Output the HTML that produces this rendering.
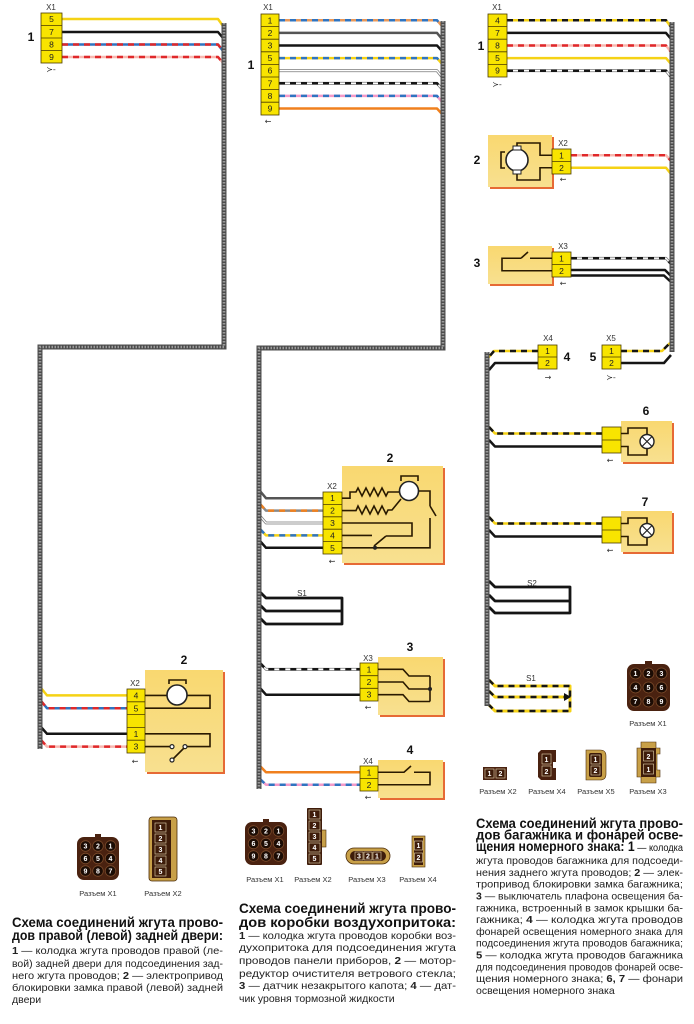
<!DOCTYPE html>
<html><head><meta charset="utf-8">
<style>
html,body{margin:0;padding:0;background:#fff;}
svg{display:block}
text{font-family:"Liberation Sans","DejaVu Sans",Arial,sans-serif;}
.w{fill:none;stroke-width:2.5;stroke-linejoin:round;stroke-linecap:butt}
.k{stroke:#151515}.y{stroke:#f5d215}.r{stroke:#e0282a}.b{stroke:#2f74c0}.p{stroke:#f49ac8}.o{stroke:#f0801e}.g{stroke:#555}.g2{stroke:#8a8a8a}.wo{stroke:#7a7a7a;stroke-width:2.8}.wt{stroke:#fff;stroke-width:1.3}.lp{stroke:#f8b8b0}.ob{stroke:#e8985a}
.d{stroke-dasharray:6 5}
.bu1{fill:none;stroke:#4c4c4c;stroke-width:5}
.bu2{fill:none;stroke:#9a9a9a;stroke-width:2.6;stroke-dasharray:1.5 1.5}
.cn{fill:#f8e400;stroke:#4a3a00;stroke-width:0.8}
.bx{fill:url(#bxg)}
.sh{fill:#e66a35}
.n{font-size:8.5px;text-anchor:middle;fill:#222}
.lb{font-size:8px;text-anchor:middle;fill:#333}
.big{font-size:12px;font-weight:bold;text-anchor:middle;fill:#111}
.in{fill:none;stroke:#2a1a00;stroke-width:1.6}
.tt{font-size:14px;font-weight:bold;fill:#111}
.tx{font-size:10.5px;fill:#222}
.cap{font-size:7.5px;text-anchor:middle;fill:#333}
.sym{font-size:8px;text-anchor:middle;fill:#333;font-family:"DejaVu Sans",sans-serif}
.pin{fill:#1c0c04;stroke:#7a4a2a;stroke-width:.8}
.pd{font-size:7px;font-weight:bold;fill:#fff;text-anchor:middle}
.ib{fill:#3e1c0a;stroke:#e8d8b0;stroke-width:.6}
</style></head>
<body>
<svg width="694" height="1024" viewBox="0 0 694 1024" xmlns="http://www.w3.org/2000/svg">
<defs>
<linearGradient id="bxg" x1="0" y1="0" x2="0" y2="1">
<stop offset="0" stop-color="#f9d870"/><stop offset="1" stop-color="#f8e090"/>
</linearGradient>
</defs>

<!-- ============ LEFT DIAGRAM ============ -->
<path class="w y" d="M62,19 H218 L223,26"/>
<path class="w k" d="M62,32 H218 L223,38"/>
<path class="w b" d="M62,44.5 H218 L223,51"/><path class="w r d" d="M62,44.5 H218 L223,51"/>
<path class="w lp" d="M62,57 H218 L223,63"/><path class="w r d" d="M62,57 H218 L223,63"/>

<path class="w y" d="M41,688 L47,695.4 H127"/>
<path class="w b" d="M41,701 L47,708.2 H127"/><path class="w r d" d="M41,701 L47,708.2 H127"/>
<path class="w k" d="M41,727 L47,733.8 H127"/>
<path class="w lp" d="M41,740 L47,746.6 H127"/><path class="w r d" d="M41,740 L47,746.6 H127"/>

<path class="bu1" d="M224,23 V347 H40 V749"/>
<path class="bu2" d="M224,23 V347 H40 V749"/>

<!-- X1 left -->
<text class="lb" x="51" y="10">X1</text>
<rect class="cn" x="41" y="13" width="21" height="50"/>
<path d="M41,25.5 H62 M41,38 H62 M41,50.5 H62" stroke="#4a3a00" stroke-width=".8"/>
<text class="n" x="51.5" y="22">5</text><text class="n" x="51.5" y="35">7</text><text class="n" x="51.5" y="47.5">8</text><text class="n" x="51.5" y="60">9</text>
<text class="big" x="31" y="41">1</text>
<text class="sym" x="51" y="72">≻-</text>

<!-- left body 2 -->
<text class="big" x="184" y="664">2</text>
<rect class="sh" x="147" y="672" width="78" height="102"/>
<rect class="bx" x="145" y="670" width="78" height="102"/>
<text class="lb" x="135" y="686">X2</text>
<rect class="cn" x="127" y="689" width="18" height="64"/>
<path d="M127,701.8 H145 M127,714.6 H145 M127,727.4 H145 M127,740.2 H145" stroke="#4a3a00" stroke-width=".8"/>
<text class="n" x="136" y="698.5">4</text><text class="n" x="136" y="711.3">5</text><text class="n" x="136" y="737">1</text><text class="n" x="136" y="749.7">3</text>
<text class="sym" x="135" y="764">⇜</text>
<path class="in" d="M145,695.4 H167 M187,695.4 H210 V708.2 H145"/>
<circle cx="177" cy="695" r="10" fill="#fff" stroke="#222" stroke-width="1.6"/>
<path class="in" d="M169,684 V680 H186 V684"/>
<path class="in" d="M145,733.8 H210 V746.6 H186 M145,746.6 H170"/>
<circle cx="172" cy="746.6" r="2" fill="#fff" stroke="#222" stroke-width="1.2"/>
<circle cx="185" cy="746.6" r="2" fill="#fff" stroke="#222" stroke-width="1.2"/>
<path class="in" d="M184,748 L173,759"/>
<circle cx="172" cy="760" r="2" fill="#fff" stroke="#222" stroke-width="1.2"/>

<!-- ============ MIDDLE DIAGRAM ============ -->
<path class="w ob" d="M279,20.3 H437 L442,26"/><path class="w b d" d="M279,20.3 H437 L442,26"/>
<path class="w g" d="M279,32.9 H437 L442,39"/>
<path class="w k" d="M279,45.5 H437 L442,51"/>
<path class="w y" d="M279,58.1 H437 L442,64"/><path class="w b d" d="M279,58.1 H437 L442,64"/>
<path class="w wo" d="M279,70.7 H437 L442,77"/><path class="w wt" d="M279,70.7 H437 L442,77"/>
<path class="w wo" d="M279,83.3 H437 L442,89"/><path class="w wt" d="M279,83.3 H437 L442,89"/><path class="w k d" d="M279,83.3 H437 L442,89"/>
<path class="w p" d="M279,95.9 H437 L442,102"/><path class="w b d" d="M279,95.9 H437 L442,102"/>
<path class="w o" d="M279,108.5 H437 L442,114"/>

<path class="w g" d="M260,491 L266,498.2 H323"/>
<path class="w g2" d="M260,504 L266,510.6 H323"/><path class="w o d" d="M260,504 L266,510.6 H323"/>
<path class="w wo" d="M260,516 L266,523 H323"/><path class="w wt" d="M260,516 L266,523 H323"/>
<path class="w y" d="M260,529 L266,535.4 H323"/><path class="w b d" d="M260,529 L266,535.4 H323"/>
<path class="w k" d="M260,541 L266,547.8 H323"/>

<path class="w k" style="stroke-width:2.8" d="M260,592 L266,598 H342 V624 H266 L260,618"/>
<path class="w k" style="stroke-width:2.8" d="M260,605 L266,611 H342"/>

<path class="w wo" d="M260,663 L266,669.3 H360"/><path class="w wt" d="M260,663 L266,669.3 H360"/><path class="w k d" d="M260,663 L266,669.3 H360"/>
<path class="w k" d="M260,688 L266,694.7 H360"/>
<path class="w o" d="M260,766 L266,772.25 H360"/>
<path class="w p" d="M260,779 L266,784.75 H360"/><path class="w b d" d="M260,779 L266,784.75 H360"/>

<path class="bu1" d="M443,21 V348 H259 V789"/>
<path class="bu2" d="M443,21 V348 H259 V789"/>

<text class="lb" x="268" y="10">X1</text>
<rect class="cn" x="261" y="14" width="18" height="101"/>
<path d="M261,26.6 H279 M261,39.2 H279 M261,51.8 H279 M261,64.4 H279 M261,77 H279 M261,89.6 H279 M261,102.2 H279" stroke="#4a3a00" stroke-width=".8"/>
<text class="n" x="270" y="23.3">1</text><text class="n" x="270" y="35.9">2</text><text class="n" x="270" y="48.5">3</text><text class="n" x="270" y="61.1">5</text><text class="n" x="270" y="73.7">6</text><text class="n" x="270" y="86.3">7</text><text class="n" x="270" y="98.9">8</text><text class="n" x="270" y="111.5">9</text>
<text class="big" x="251" y="69">1</text>
<text class="sym" x="268" y="124">←</text>

<!-- middle body 2 -->
<text class="big" x="390" y="462">2</text>
<rect class="sh" x="344" y="468" width="101" height="97"/>
<rect class="bx" x="342" y="466" width="101" height="97"/>
<text class="lb" x="332" y="489">X2</text>
<rect class="cn" x="323" y="492" width="19" height="62"/>
<path d="M323,504.4 H342 M323,516.8 H342 M323,529.2 H342 M323,541.6 H342" stroke="#4a3a00" stroke-width=".8"/>
<text class="n" x="332.5" y="501.2">1</text><text class="n" x="332.5" y="513.6">2</text><text class="n" x="332.5" y="526">3</text><text class="n" x="332.5" y="538.4">4</text><text class="n" x="332.5" y="550.8">5</text>
<text class="sym" x="332" y="564">⇜</text>
<path class="in" d="M342,498.2 H350 V492 H356 L358,488 L362,496 L366,488 L370,496 L374,488 L378,496 L382,488 L386,496 L388,492 H399"/>
<path class="in" d="M342,510.6 H356 L358,506 L362,514 L366,506 L370,514 L374,506 L378,514 L382,506 L386,514 L388,510 H392 L401,499"/>
<circle cx="409" cy="491" r="9.5" fill="#fff" stroke="#222" stroke-width="1.6"/>
<path class="in" d="M401,481 V476 H418 V481"/>
<path class="in" d="M419,491 H430 V506 M430,506 L436,516 M430,518 V547.8 H342"/>
<path class="in" d="M342,523 H412 V536 H386 M342,535.4 H372 M374,546 L386,536"/>
<circle cx="375" cy="547.8" r="2" fill="#222"/>

<!-- middle S1 -->
<text class="lb" x="302" y="596">S1</text>

<!-- middle body 3 -->
<text class="big" x="410" y="651">3</text>
<rect class="sh" x="380" y="659" width="65" height="58"/>
<rect class="bx" x="378" y="657" width="65" height="58"/>
<text class="lb" x="368" y="661">X3</text>
<rect class="cn" x="360" y="663" width="18" height="38"/>
<path d="M360,675.7 H378 M360,688.3 H378" stroke="#4a3a00" stroke-width=".8"/>
<text class="n" x="369" y="672.3">1</text><text class="n" x="369" y="685">2</text><text class="n" x="369" y="697.7">3</text>
<text class="sym" x="368" y="710">⇜</text>
<path class="in" d="M378,669.3 H403 L409,676 H430 M378,682 H403 L409,689 H430 M378,694.7 H403 L409,701.5 H430 M430,676 V701.5"/>
<circle cx="430" cy="689" r="2" fill="#222"/>

<!-- middle body 4 -->
<text class="big" x="410" y="754">4</text>
<rect class="sh" x="380" y="762" width="65" height="38"/>
<rect class="bx" x="378" y="760" width="65" height="38"/>
<text class="lb" x="368" y="764">X4</text>
<rect class="cn" x="360" y="766" width="18" height="25"/>
<path d="M360,778.5 H378" stroke="#4a3a00" stroke-width=".8"/>
<text class="n" x="369" y="775.3">1</text><text class="n" x="369" y="787.8">2</text>
<text class="sym" x="368" y="800">⇜</text>
<path class="in" d="M378,772.25 H404 L411,766 M414,772.25 H430 V784.75 H378"/>

<!-- ============ RIGHT DIAGRAM ============ -->
<path class="w y" d="M507,20.3 H666 L671,27"/><path class="w k d" d="M507,20.3 H666 L671,27"/>
<path class="w k" d="M507,32.9 H666 L671,39"/>
<path class="w lp" d="M507,45.5 H666 L671,52"/><path class="w r d" d="M507,45.5 H666 L671,52"/>
<path class="w y" d="M507,58.1 H666 L671,64"/>
<path class="w wo" d="M507,70.7 H666 L671,77"/><path class="w wt" d="M507,70.7 H666 L671,77"/><path class="w k d" d="M507,70.7 H666 L671,77"/>

<path class="w lp" d="M571,155.25 H666 L671,161"/><path class="w r d" d="M571,155.25 H666 L671,161"/>
<path class="w y" d="M571,167.75 H666 L671,174"/>
<path class="w wo" d="M571,258.25 H666 L671,264"/><path class="w wt" d="M571,258.25 H666 L671,264"/><path class="w k d" d="M571,258.25 H666 L671,264"/>
<path class="w k" d="M571,270 H665 L671,276"/>
<path class="w k" d="M571,275.5 H664 L671,282"/>

<path class="w y" d="M621,351 H662 L670,343"/><path class="w k d" d="M621,351 H662 L670,343"/>
<path class="w k" d="M621,363 H664 L671,355"/>

<path class="w y" d="M538,351 H494 L488,358"/><path class="w k d" d="M538,351 H494 L488,358"/>
<path class="w k" d="M538,363 H495 L489,370"/>

<path class="w y" d="M489,427 L495,433.5 H602"/><path class="w k d" d="M489,427 L495,433.5 H602"/>
<path class="w k" d="M489,440 L495,446.5 H602"/>
<path class="w y" d="M489,517 L495,523.5 H602"/><path class="w k d" d="M489,517 L495,523.5 H602"/>
<path class="w k" d="M489,530 L495,536.5 H602"/>

<path class="w k" style="stroke-width:2.8" d="M489,581 L495,587 H570 V613 H495 L489,607"/>
<path class="w k" style="stroke-width:2.8" d="M489,595 L495,601 H570"/>

<path class="w y" style="stroke-width:3" d="M489,680 L495,686 H570 V711 H495 L489,705"/><path class="w k d" d="M489,680 L495,686 H570 V711 H495 L489,705"/>
<path class="w y" style="stroke-width:3" d="M489,691 L495,697 H566"/><path class="w k d" d="M489,691 L495,697 H566"/>
<path d="M564,693 L571,697 L564,701 Z" fill="#111"/>

<path class="bu1" d="M672,22 V352"/><path class="bu2" d="M672,22 V352"/>
<path class="bu1" d="M487,352 V706"/><path class="bu2" d="M487,352 V706"/>

<text class="lb" x="497" y="10">X1</text>
<rect class="cn" x="488" y="14" width="19" height="63"/>
<path d="M488,26.6 H507 M488,39.2 H507 M488,51.8 H507 M488,64.4 H507" stroke="#4a3a00" stroke-width=".8"/>
<text class="n" x="497.5" y="23.3">4</text><text class="n" x="497.5" y="35.9">7</text><text class="n" x="497.5" y="48.5">8</text><text class="n" x="497.5" y="61.1">5</text><text class="n" x="497.5" y="73.7">9</text>
<text class="big" x="481" y="50">1</text>
<text class="sym" x="497" y="87">≻-</text>

<!-- right 2 -->
<text class="big" x="477" y="164">2</text>
<rect class="sh" x="490" y="137" width="64" height="52"/>
<rect class="bx" x="488" y="135" width="64" height="52"/>
<text class="lb" x="563" y="146">X2</text>
<rect class="cn" x="552" y="149" width="19" height="25"/>
<path d="M552,161.5 H571" stroke="#4a3a00" stroke-width=".8"/>
<text class="n" x="561.5" y="158.3">1</text><text class="n" x="561.5" y="170.8">2</text>
<text class="sym" x="563" y="182">⇜</text>
<path class="in" d="M552,155.25 H540 V143 H517 V149 M552,167.75 H540 V180 H517 V171 M505,152 H501 V168 H505"/>
<circle cx="517" cy="160" r="11" fill="#fff" stroke="#222" stroke-width="1.6"/>
<rect x="513" y="146" width="8" height="4" fill="#fff" stroke="#222" stroke-width="1"/>
<rect x="513" y="170" width="8" height="4" fill="#fff" stroke="#222" stroke-width="1"/>

<!-- right 3 -->
<text class="big" x="477" y="267">3</text>
<rect class="sh" x="490" y="248" width="64" height="38"/>
<rect class="bx" x="488" y="246" width="64" height="38"/>
<text class="lb" x="563" y="249">X3</text>
<rect class="cn" x="552" y="252" width="19" height="25"/>
<path d="M552,264.5 H571" stroke="#4a3a00" stroke-width=".8"/>
<text class="n" x="561.5" y="261.3">1</text><text class="n" x="561.5" y="273.8">2</text>
<text class="sym" x="563" y="286">⇜</text>
<path class="in" d="M552,258.25 H530 M521,258.25 L528,252 M552,270.75 H502 V258.25 H521"/>

<!-- right X4, X5 -->
<text class="lb" x="548" y="341">X4</text>
<rect class="cn" x="538" y="345" width="19" height="24"/>
<path d="M538,357 H557" stroke="#4a3a00" stroke-width=".8"/>
<text class="n" x="547.5" y="354">1</text><text class="n" x="547.5" y="366">2</text>
<text class="big" x="567" y="361">4</text>
<text class="sym" x="548" y="380">→</text>
<text class="lb" x="611" y="341">X5</text>
<rect class="cn" x="602" y="345" width="19" height="24"/>
<path d="M602,357 H621" stroke="#4a3a00" stroke-width=".8"/>
<text class="n" x="611.5" y="354">1</text><text class="n" x="611.5" y="366">2</text>
<text class="big" x="593" y="361">5</text>
<text class="sym" x="611" y="380">≻-</text>

<!-- lamp 6 -->
<text class="big" x="646" y="415">6</text>
<rect class="sh" x="623" y="423" width="51" height="41"/>
<rect class="bx" x="621" y="421" width="51" height="41"/>
<rect class="cn" x="602" y="427" width="19" height="26"/>
<path d="M602,440 H621" stroke="#4a3a00" stroke-width=".8"/>
<text class="sym" x="610" y="463">⇜</text>
<path class="in" d="M621,433.5 H628 V428 H647 V434.5 M621,446.5 H628 V455 H647 V448.5"/>
<circle cx="647" cy="441.5" r="7" fill="#fff" stroke="#222" stroke-width="1.4"/>
<path d="M642,436.5 L652,446.5 M652,436.5 L642,446.5" stroke="#222" stroke-width="1.2"/>

<!-- lamp 7 -->
<text class="big" x="645" y="506">7</text>
<rect class="sh" x="623" y="513" width="51" height="41"/>
<rect class="bx" x="621" y="511" width="51" height="41"/>
<rect class="cn" x="602" y="517" width="19" height="26"/>
<path d="M602,530 H621" stroke="#4a3a00" stroke-width=".8"/>
<text class="sym" x="610" y="553">⇜</text>
<path class="in" d="M621,523.5 H628 V518 H647 V523.5 M621,536.5 H628 V545 H647 V537.5"/>
<circle cx="647" cy="530.5" r="7" fill="#fff" stroke="#222" stroke-width="1.4"/>
<path d="M642,525.5 L652,535.5 M652,525.5 L642,535.5" stroke="#222" stroke-width="1.2"/>

<text class="lb" x="532" y="586">S2</text>
<text class="lb" x="531" y="681">S1</text>

<!-- ============ CONNECTOR ICONS ============ -->
<!-- left X1 -->
<rect x="95" y="834" width="6" height="5" fill="#4a2210"/>
<rect x="77" y="837" width="42" height="43" rx="7" fill="#4a2210"/>
<g>
<circle class="pin" cx="85.5" cy="846" r="5.3"/><circle class="pin" cx="98" cy="846" r="5.3"/><circle class="pin" cx="110.5" cy="846" r="5.3"/>
<circle class="pin" cx="85.5" cy="858.5" r="5.3"/><circle class="pin" cx="98" cy="858.5" r="5.3"/><circle class="pin" cx="110.5" cy="858.5" r="5.3"/>
<circle class="pin" cx="85.5" cy="871" r="5.3"/><circle class="pin" cx="98" cy="871" r="5.3"/><circle class="pin" cx="110.5" cy="871" r="5.3"/>
<text class="pd" x="85.5" y="848.5">3</text><text class="pd" x="98" y="848.5">2</text><text class="pd" x="110.5" y="848.5">1</text>
<text class="pd" x="85.5" y="861">6</text><text class="pd" x="98" y="861">5</text><text class="pd" x="110.5" y="861">4</text>
<text class="pd" x="85.5" y="873.5">9</text><text class="pd" x="98" y="873.5">8</text><text class="pd" x="110.5" y="873.5">7</text>
</g>
<text class="cap" x="98" y="896">Разъем X1</text>
<!-- left X2 -->
<rect x="149" y="817" width="28" height="64" rx="3" fill="#c8a048" stroke="#4a2a08" stroke-width=".8"/>
<rect x="152" y="820" width="19" height="58" fill="#3e1c0a"/>
<rect class="ib" x="155" y="823" width="11" height="9"/><rect class="ib" x="155" y="834" width="11" height="9"/><rect class="ib" x="155" y="845" width="11" height="9"/><rect class="ib" x="155" y="856" width="11" height="9"/><rect class="ib" x="155" y="867" width="11" height="9"/>
<text class="pd" x="160.5" y="830">1</text><text class="pd" x="160.5" y="841">2</text><text class="pd" x="160.5" y="852">3</text><text class="pd" x="160.5" y="863">4</text><text class="pd" x="160.5" y="874">5</text>
<text class="cap" x="163" y="896">Разъем X2</text>

<!-- middle X1 -->
<rect x="263" y="819" width="6" height="5" fill="#4a2210"/>
<rect x="245" y="822" width="42" height="43" rx="7" fill="#4a2210"/>
<circle class="pin" cx="253.5" cy="831" r="5.3"/><circle class="pin" cx="266" cy="831" r="5.3"/><circle class="pin" cx="278.5" cy="831" r="5.3"/>
<circle class="pin" cx="253.5" cy="843.5" r="5.3"/><circle class="pin" cx="266" cy="843.5" r="5.3"/><circle class="pin" cx="278.5" cy="843.5" r="5.3"/>
<circle class="pin" cx="253.5" cy="856" r="5.3"/><circle class="pin" cx="266" cy="856" r="5.3"/><circle class="pin" cx="278.5" cy="856" r="5.3"/>
<text class="pd" x="253.5" y="833.5">3</text><text class="pd" x="266" y="833.5">2</text><text class="pd" x="278.5" y="833.5">1</text>
<text class="pd" x="253.5" y="846">6</text><text class="pd" x="266" y="846">5</text><text class="pd" x="278.5" y="846">4</text>
<text class="pd" x="253.5" y="858.5">9</text><text class="pd" x="266" y="858.5">8</text><text class="pd" x="278.5" y="858.5">7</text>
<text class="cap" x="265" y="882">Разъем X1</text>
<!-- middle X2 -->
<rect x="321" y="830" width="5" height="17" fill="#c8a048" stroke="#4a2a08" stroke-width=".6"/>
<rect x="307" y="808" width="15" height="57" rx="1" fill="#3e1c0a"/>
<rect class="ib" x="309" y="810" width="11" height="9"/><rect class="ib" x="309" y="821" width="11" height="9"/><rect class="ib" x="309" y="832" width="11" height="9"/><rect class="ib" x="309" y="843" width="11" height="9"/><rect class="ib" x="309" y="854" width="11" height="9"/>
<text class="pd" x="314.5" y="817">1</text><text class="pd" x="314.5" y="828">2</text><text class="pd" x="314.5" y="839">3</text><text class="pd" x="314.5" y="850">4</text><text class="pd" x="314.5" y="861">5</text>
<text class="cap" x="313" y="882">Разъем X2</text>
<!-- middle X3 -->
<rect x="346" y="848" width="44" height="16" rx="8" fill="#c8a048" stroke="#4a2a08" stroke-width=".8"/>
<rect x="350" y="851" width="36" height="10" rx="5" fill="#3e1c0a"/>
<rect class="ib" x="355" y="852" width="8" height="8"/><rect class="ib" x="364" y="852" width="8" height="8"/><rect class="ib" x="373" y="852" width="8" height="8"/>
<text class="pd" x="359" y="858.5">3</text><text class="pd" x="368" y="858.5">2</text><text class="pd" x="377" y="858.5">1</text>
<text class="cap" x="367" y="882">Разъем X3</text>
<!-- middle X4 -->
<rect x="412" y="836" width="13" height="31" fill="#c8a048" stroke="#4a2a08" stroke-width=".6"/>
<rect x="414" y="838" width="9" height="27" fill="#3e1c0a"/>
<rect class="ib" x="414.5" y="841" width="8" height="9"/><rect class="ib" x="414.5" y="853" width="8" height="9"/>
<text class="pd" x="418.5" y="848">1</text><text class="pd" x="418.5" y="860">2</text>
<text class="cap" x="418" y="882">Разъем X4</text>

<!-- right X1 -->
<rect x="645" y="661" width="7" height="5" fill="#4a2210"/>
<rect x="627" y="664" width="43" height="47" rx="7" fill="#4a2210"/>
<circle class="pin" cx="635.5" cy="673.5" r="5.5"/><circle class="pin" cx="648.5" cy="673.5" r="5.5"/><circle class="pin" cx="661.5" cy="673.5" r="5.5"/>
<circle class="pin" cx="635.5" cy="687.5" r="5.5"/><circle class="pin" cx="648.5" cy="687.5" r="5.5"/><circle class="pin" cx="661.5" cy="687.5" r="5.5"/>
<circle class="pin" cx="635.5" cy="701.5" r="5.5"/><circle class="pin" cx="648.5" cy="701.5" r="5.5"/><circle class="pin" cx="661.5" cy="701.5" r="5.5"/>
<text class="pd" x="635.5" y="676">1</text><text class="pd" x="648.5" y="676">2</text><text class="pd" x="661.5" y="676">3</text>
<text class="pd" x="635.5" y="690">4</text><text class="pd" x="648.5" y="690">5</text><text class="pd" x="661.5" y="690">6</text>
<text class="pd" x="635.5" y="704">7</text><text class="pd" x="648.5" y="704">8</text><text class="pd" x="661.5" y="704">9</text>
<text class="cap" x="648" y="726">Разъем X1</text>
<!-- right X2 -->
<rect x="483" y="767" width="24" height="13" fill="#4a2210"/>
<rect class="ib" x="485" y="769" width="9" height="9"/><rect class="ib" x="496" y="769" width="9" height="9"/>
<text class="pd" x="489.5" y="776">1</text><text class="pd" x="500.5" y="776">2</text>
<text class="cap" x="498" y="794">Разъем X2</text>
<!-- right X4 -->
<path d="M541,750 H556 V762 H553 V768 H556 V780 H541 L538,777 V753 Z" fill="#4a2210"/>
<rect class="ib" x="542" y="754" width="9" height="10"/><rect class="ib" x="542" y="766" width="9" height="10"/>
<text class="pd" x="546.5" y="762">1</text><text class="pd" x="546.5" y="774">2</text>
<text class="cap" x="547" y="794">Разъем X4</text>
<!-- right X5 -->
<path d="M586,750 H600 Q606,750 606,756 V774 Q606,780 600,780 H586 Z" fill="#c8a048" stroke="#4a2a08" stroke-width=".6"/>
<rect x="589" y="753" width="13" height="24" rx="2" fill="#3e1c0a"/>
<rect class="ib" x="591" y="755" width="9" height="9"/><rect class="ib" x="591" y="766" width="9" height="9"/>
<text class="pd" x="595.5" y="762">1</text><text class="pd" x="595.5" y="773">2</text>
<text class="cap" x="596" y="794">Разъем X5</text>
<!-- right X3 -->
<path d="M641,742 H656 V748 H660 V754 H657 V770 H660 V777 H656 V783 H641 V777 H637 V748 H641 Z" fill="#c8a048" stroke="#4a2a08" stroke-width=".6"/>
<rect x="641" y="748" width="15" height="29" fill="#3e1c0a"/>
<rect class="ib" x="643.5" y="751" width="10" height="10"/><rect class="ib" x="643.5" y="764" width="10" height="10"/>
<text class="pd" x="648.5" y="759">2</text><text class="pd" x="648.5" y="772">1</text>
<text class="cap" x="648" y="794">Разъем X3</text>

<!-- ============ TEXT BLOCKS ============ -->
<text class="tt" x="12" y="927" textLength="211" lengthAdjust="spacingAndGlyphs">Схема соединений жгута прово-</text>
<text class="tt" x="12" y="940" textLength="211" lengthAdjust="spacingAndGlyphs">дов правой (левой) задней двери:</text>
<text class="tx" x="12" y="954" textLength="211" lengthAdjust="spacingAndGlyphs"><tspan font-weight="bold">1</tspan> — колодка жгута проводов правой (ле-</text>
<text class="tx" x="12" y="967" textLength="211" lengthAdjust="spacingAndGlyphs">вой) задней двери для подсоединения зад-</text>
<text class="tx" x="12" y="979" textLength="211" lengthAdjust="spacingAndGlyphs">него жгута проводов; <tspan font-weight="bold">2</tspan> — электропривод</text>
<text class="tx" x="12" y="991" textLength="211" lengthAdjust="spacingAndGlyphs">блокировки замка правой (левой) задней</text>
<text class="tx" x="12" y="1003">двери</text>

<text class="tt" x="239" y="913" textLength="217" lengthAdjust="spacingAndGlyphs">Схема соединений жгута прово-</text>
<text class="tt" x="239" y="927" textLength="217" lengthAdjust="spacingAndGlyphs">дов коробки воздухопритока:</text>
<text class="tx" x="239" y="939" textLength="217" lengthAdjust="spacingAndGlyphs"><tspan font-weight="bold">1</tspan> — колодка жгута проводов коробки воз-</text>
<text class="tx" x="239" y="951" textLength="217" lengthAdjust="spacingAndGlyphs">духопритока для подсоединения жгута</text>
<text class="tx" x="239" y="964" textLength="217" lengthAdjust="spacingAndGlyphs">проводов панели приборов, <tspan font-weight="bold">2</tspan> — мотор-</text>
<text class="tx" x="239" y="977" textLength="217" lengthAdjust="spacingAndGlyphs">редуктор очистителя ветрового стекла;</text>
<text class="tx" x="239" y="989" textLength="217" lengthAdjust="spacingAndGlyphs"><tspan font-weight="bold">3</tspan> — датчик незакрытого капота; <tspan font-weight="bold">4</tspan> — дат-</text>
<text class="tx" x="239" y="1002">чик уровня тормозной жидкости</text>

<text class="tt" x="476" y="828" textLength="207" lengthAdjust="spacingAndGlyphs">Схема соединений жгута прово-</text>
<text class="tt" x="476" y="839.5" textLength="207" lengthAdjust="spacingAndGlyphs">дов багажника и фонарей осве-</text>
<text class="tt" x="476" y="851" textLength="207" lengthAdjust="spacingAndGlyphs">щения номерного знака: 1<tspan font-weight="normal" font-size="10.5"> — колодка</tspan></text>
<text class="tx" x="476" y="864" textLength="207" lengthAdjust="spacingAndGlyphs">жгута проводов багажника для подсоеди-</text>
<text class="tx" x="476" y="875.8" textLength="207" lengthAdjust="spacingAndGlyphs">нения заднего жгута проводов; <tspan font-weight="bold">2</tspan> — элек-</text>
<text class="tx" x="476" y="887.6" textLength="207" lengthAdjust="spacingAndGlyphs">тропривод блокировки замка багажника;</text>
<text class="tx" x="476" y="899.5" textLength="207" lengthAdjust="spacingAndGlyphs"><tspan font-weight="bold">3</tspan> — выключатель плафона освещения ба-</text>
<text class="tx" x="476" y="911.3" textLength="207" lengthAdjust="spacingAndGlyphs">гажника, встроенный в замок крышки ба-</text>
<text class="tx" x="476" y="923.1" textLength="207" lengthAdjust="spacingAndGlyphs">гажника; <tspan font-weight="bold">4</tspan> — колодка жгута проводов</text>
<text class="tx" x="476" y="934.9" textLength="207" lengthAdjust="spacingAndGlyphs">фонарей освещения номерного знака для</text>
<text class="tx" x="476" y="946.7" textLength="207" lengthAdjust="spacingAndGlyphs">подсоединения жгута проводов багажника;</text>
<text class="tx" x="476" y="958.5" textLength="207" lengthAdjust="spacingAndGlyphs"><tspan font-weight="bold">5</tspan> — колодка жгута проводов багажника</text>
<text class="tx" x="476" y="970.4" textLength="207" lengthAdjust="spacingAndGlyphs">для подсоединения проводов фонарей осве-</text>
<text class="tx" x="476" y="982.2" textLength="207" lengthAdjust="spacingAndGlyphs">щения номерного знака; <tspan font-weight="bold">6, 7</tspan> — фонари</text>
<text class="tx" x="476" y="994">освещения номерного знака</text>
</svg>
</body></html>
